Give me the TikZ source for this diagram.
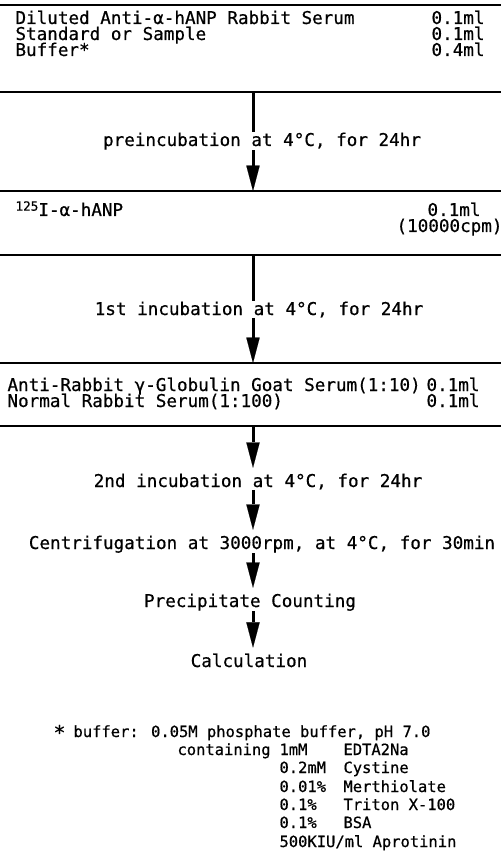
\documentclass[tikz,border=0pt]{standalone}
\usepackage{fontspec}
\newfontfamily\typefont[FakeBold=0.6]{DejaVu Sans Mono}
\usetikzlibrary{arrows.meta}

\tikzset{every picture/.style={line width=0.75pt}}
\tikzset{
  txt/.style={font=\typefont\fontsize{13.2}{13.2}\selectfont, inner sep=0pt},
  note/.style={font=\typefont\fontsize{11.6}{11.6}\selectfont, inner sep=0pt},
  rule/.style={line width=1.5pt},
  shaft/.style={line width=2.25pt},
  flowarrow/.style={line width=2.25pt, -{Triangle[length=19pt,width=10pt,line width=0.1pt]}}
}

\begin{document}
\begin{tikzpicture}[x=0.75pt,y=0.75pt,yscale=-1,xscale=1]
	\useasboundingbox (0,0) rectangle (501,852);

	%Straight Lines (rules)
	\draw [rule] (0,5) -- (501,5) ;
	\draw [rule] (0,92) -- (501,92) ;
	\draw [rule] (0,191) -- (501,191) ;
	\draw [rule] (0,255) -- (501,255) ;
	\draw [rule] (0,363) -- (501,363) ;
	\draw [rule] (0,426) -- (501,426) ;

	%Coordinates on the rules
	\coordinate (r1) at (253,92) ;
	\coordinate (r2) at (253,191) ;
	\coordinate (r3) at (253,255) ;
	\coordinate (r4) at (253,363) ;
	\coordinate (r5) at (253,426) ;

	% Text Node
	\node [txt, anchor=base west] (serum) at (15,24) {Diluted Anti-α-hANP Rabbit Serum};
	\node [txt, anchor=base east] (serumvol) at (485,24) {0.1ml};
	\node [txt, anchor=base west] (sample) at (15,40) {Standard or Sample};
	\node [txt, anchor=base east] (samplevol) at (485,40) {0.1ml};
	\node [txt, anchor=base west] (buffer) at (15,56) {Buffer*};
	\node [txt, anchor=base east] (buffervol) at (485,56) {0.4ml};

	% Text Node
	\node [txt, anchor=base] (preinc) at (262,146) {preincubation at 4°C, for 24hr};

	% Text Node
	\node [txt, anchor=base west] (tracer) at (15,216) {\raisebox{4pt}{\fontsize{9.5}{9.5}\selectfont 125}I-α-hANP};
	\node [txt, anchor=base east] (tracervol) at (481,216) {0.1ml};
	\node [txt, anchor=base east] (tracercpm) at (503,232) {(10000cpm)};

	% Text Node
	\node [txt, anchor=base] (inc1) at (259,315) {1st incubation at 4°C, for 24hr};

	% Text Node
	\node [txt, anchor=base west] (goat) at (7,391) {Anti-Rabbit γ-Globulin Goat Serum(1:10)};
	\node [txt, anchor=base east] (goatvol) at (480,391) {0.1ml};
	\node [txt, anchor=base west] (normal) at (7,407) {Normal Rabbit Serum(1:100)};
	\node [txt, anchor=base east] (normalvol) at (480,407) {0.1ml};

	% Text Node
	\node [txt, anchor=base] (inc2) at (258,487) {2nd incubation at 4°C, for 24hr};
	\node [txt, anchor=base] (centri) at (262,549) {Centrifugation at 3000rpm, at 4°C, for 30min};
	\node [txt, anchor=base] (count) at (250,607) {Precipitate Counting};
	\node [txt, anchor=base] (calc) at (249,667) {Calculation};

	%Arrows
	\draw [shaft] (r1) -- (r1 |- preinc.north) ;
	\draw [flowarrow] (r1 |- preinc.south) -- (r2) ;
	\draw [shaft] (r3) -- (r3 |- inc1.north) ;
	\draw [flowarrow] (r3 |- inc1.south) -- (r4) ;
	\draw [flowarrow, shorten >=4pt] (r5) -- (r5 |- inc2.north) ;
	\draw [flowarrow, shorten >=4pt] (r5 |- inc2.south) -- (r5 |- centri.north) ;
	\draw [flowarrow, shorten >=4pt] (r5 |- centri.south) -- (r5 |- count.north) ;
	\draw [flowarrow, shorten >=4pt] (r5 |- count.south) -- (r5 |- calc.north) ;

	% Text Node (footnote)
	\node [note, anchor=base west] (fn) at (53,737) {\raisebox{-2pt}{\fontsize{15}{15}\selectfont *}\hspace{-1pt} buffer: 0.05M phosphate buffer, pH 7.0};
	\node [note, anchor=base west] (contain) at (177,755) {containing};
	\node [note, anchor=base west] (edtaconc) at (279,755) {1mM};
	\node [note, anchor=base west] (edta) at (343,755) {EDTA2Na};
	\node [note, anchor=base west] (cysconc) at (279,773) {0.2mM};
	\node [note, anchor=base west] (cys) at (343,773) {Cystine};
	\node [note, anchor=base west] (merconc) at (279,792) {0.01\%};
	\node [note, anchor=base west] (mer) at (343,792) {Merthiolate};
	\node [note, anchor=base west] (tritonconc) at (279,810) {0.1\%};
	\node [note, anchor=base west] (triton) at (343,810) {Triton X-100};
	\node [note, anchor=base west] (bsaconc) at (279,828) {0.1\%};
	\node [note, anchor=base west] (bsa) at (343,828) {BSA};
	\node [note, anchor=base west] (aprot) at (279,847) {500KIU/ml Aprotinin};

\end{tikzpicture}
\end{document}
